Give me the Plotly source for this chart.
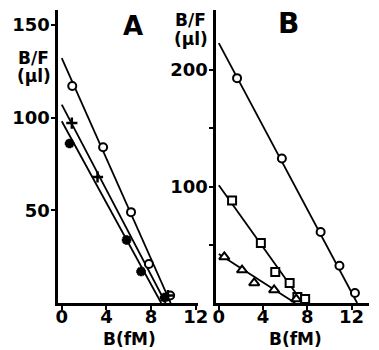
import plotly.graph_objects as go

# ---------------- data ----------------
# Panel A
A_circ_x = [0.94, 3.7, 6.2, 7.8, 9.7]
A_circ_y = [117, 84, 49, 21, 4]
A_plus_x = [0.9, 3.2, 9.5]
A_plus_y = [97, 68, 4]
A_star_x = [0.7, 5.8, 7.1, 9.2]
A_star_y = [86, 34, 17, 3]
A_fit_intercept = [132, 107, 98]
A_fit_xint = [9.75, 9.3, 8.9]

# Panel B
B_circ_x = [1.65, 5.7, 9.2, 10.9, 12.3]
B_circ_y = [193, 124, 61, 32, 8.6]
B_sq_x = [1.2, 3.8, 5.1, 6.4, 7.1, 7.8]
B_sq_y = [88, 51.5, 26.6, 17.2, 5.2, 3.4]
B_tri_x = [0.5, 2.1, 3.2, 5.0, 7.0]
B_tri_y = [39.5, 28.3, 17.2, 11.2, 3.4]
B_fit_intercept = [223, 101, 42]
B_fit_xint = [12.5, 7.6, 6.9]

x_ticks = [0, 4, 8, 12]
A_y_ticks = [50, 100, 150]
A_y_text = ["50", "100", "150"]
B_y_ticks = [50, 100, 150, 200]
B_y_text = ["", "100", "", "200"]

W, H = 379, 350
FONT = "DejaVu Sans"

fig = go.Figure()

def fit_lines(intercepts, xints, xa, ya):
    for b, xi in zip(intercepts, xints):
        fig.add_trace(go.Scatter(x=[0, xi], y=[b, 0], mode="lines",
                                 line=dict(color="black", width=1.8),
                                 xaxis=xa, yaxis=ya, showlegend=False,
                                 hoverinfo="skip"))

def markers(x, y, symbol, size, xa, ya, lw=2, color="white"):
    fig.add_trace(go.Scatter(x=x, y=y, mode="markers",
                             marker=dict(symbol=symbol, size=size, color=color,
                                         line=dict(color="black", width=lw)),
                             xaxis=xa, yaxis=ya, showlegend=False))

fit_lines(A_fit_intercept, A_fit_xint, "x", "y")
markers(A_circ_x, A_circ_y, "circle", 8, "x", "y")
markers(A_plus_x, A_plus_y, "cross-thin-open", 8, "x", "y", lw=2.5, color="black")
markers(A_star_x, A_star_y, "asterisk-open", 8, "x", "y", lw=3, color="black")

fit_lines(B_fit_intercept, B_fit_xint, "x2", "y2")
markers(B_circ_x, B_circ_y, "circle", 8, "x2", "y2")
markers(B_sq_x, B_sq_y, "square", 8, "x2", "y2")
markers(B_tri_x, B_tri_y, "triangle-up", 9, "x2", "y2")

base = dict(showline=True, linewidth=3, linecolor="black", showgrid=False,
            zeroline=False, ticks="outside", ticklen=4, tickwidth=2,
            tickcolor="black",
            tickfont=dict(family=FONT, size=18, color="black", weight="bold"))

ybot = 1 - 303 / H
ytop = 1 - 10 / H

fig.update_layout(
    width=W, height=H, margin=dict(l=0, r=0, t=0, b=0),
    paper_bgcolor="white", plot_bgcolor="white",
    font=dict(family=FONT, color="black", weight="bold"),
    xaxis=dict(domain=[56.5 / W, 201.5 / W], range=[-0.3, 12.2],
               tickvals=x_ticks, anchor="y", ticklabelstandoff=-9, **base),
    yaxis=dict(domain=[ybot, ytop], range=[0, 158], tickvals=A_y_ticks,
               ticktext=A_y_text, anchor="x", ticklabelstandoff=-2, **base),
    xaxis2=dict(domain=[220.5 / W, 1.0], range=[-0.22, 13.57],
                tickvals=x_ticks, anchor="y2", ticklabelstandoff=-9, **base),
    yaxis2=dict(domain=[ybot, ytop], range=[0, 251.5], tickvals=B_y_ticks,
                ticktext=B_y_text, anchor="x2", ticklabelstandoff=-2, **base),
)

def ann(text, px, py, size):
    fig.add_annotation(text=text, x=px / W, y=1 - py / H, xref="paper", yref="paper",
                       showarrow=False, xanchor="center", yanchor="middle",
                       font=dict(family=FONT, size=size, color="black", weight="bold"))

ann("A", 134, 26, 26)
ann("B", 295, 23, 28)
ann("B/F", 31, 58, 17)
ann("(µl)", 31, 76, 17)
ann("B/F", 194, 20, 17)
ann("(µl)", 194, 39, 17)
ann("B(fM)", 130, 339, 17)
ann("B(fM)", 303, 339, 17)

fig.write_html("out.html")
